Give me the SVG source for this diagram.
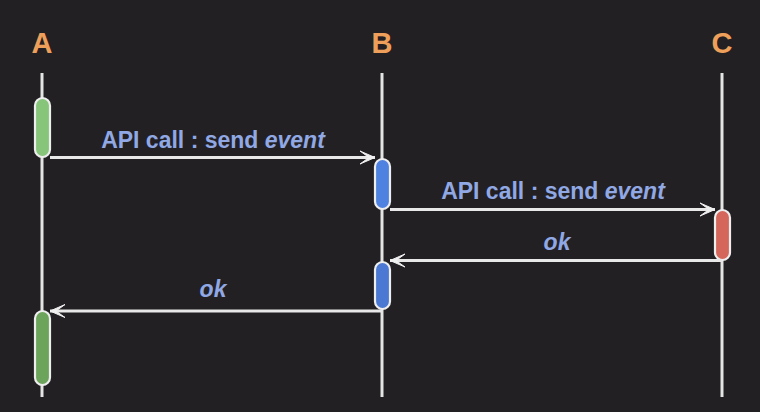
<svg xmlns="http://www.w3.org/2000/svg" width="760" height="412" viewBox="0 0 760 412">
<style>
.bg{fill:#232023}
.life{stroke:#e4e4e4;stroke-width:3;fill:none}
.head{font-family:"Liberation Sans",Arial,sans-serif;font-weight:bold;font-size:29px;fill:#eea05a;text-anchor:middle}
.act{stroke:#eeeeee;stroke-width:2.2}
.msg{stroke:#e8e8e8;stroke-width:3;fill:none}
.lbl{font-family:"Liberation Sans",Arial,sans-serif;font-weight:bold;font-size:23px;fill:#90a8e4;text-anchor:middle}
</style>
<defs>
<marker id="arr" markerUnits="userSpaceOnUse" markerWidth="20" markerHeight="20" refX="16" refY="8" orient="auto">
<path d="M16,8 L1,1.5 L10,8 L1,14.5 Z" fill="#f0f0f0" stroke="#f0f0f0" stroke-width="1" stroke-linejoin="miter"/>
</marker>
</defs>
<rect class="bg" x="0" y="0" width="760" height="412"/>
<g id="A">
<text class="head" x="42" y="53">A</text>
<line class="life" x1="42" y1="73" x2="42" y2="397"/>
<rect id="A-act1" class="act" x="35" y="98" width="15" height="59" rx="7.5" fill="#86c57a"/>
<rect id="A-act2" class="act" x="35" y="311" width="15" height="74" rx="7.5" fill="#6ca45c"/>
</g>
<g id="B">
<text class="head" x="382" y="53">B</text>
<line class="life" x1="382" y1="73" x2="382" y2="397"/>
<rect id="B-act1" class="act" x="375" y="159" width="15" height="50" rx="7.5" fill="#4f82e0"/>
<rect id="B-act2" class="act" x="375" y="262" width="15" height="47" rx="7.5" fill="#4a78d2"/>
</g>
<g id="C">
<text class="head" x="722" y="53">C</text>
<line class="life" x1="722" y1="73" x2="722" y2="397"/>
<rect id="C-act1" class="act" x="715" y="210" width="15" height="50" rx="7.5" fill="#d5665c"/>
</g>
<g id="connectors">
<line class="msg" x1="50" y1="157.5" x2="375" y2="157.5" marker-end="url(#arr)"/>
<line class="msg" x1="390" y1="209.5" x2="715" y2="209.5" marker-end="url(#arr)"/>
<line class="msg" x1="722" y1="260.5" x2="390" y2="260.5" marker-end="url(#arr)"/>
<line class="msg" x1="382" y1="311" x2="50" y2="311" marker-end="url(#arr)"/>
</g>
<g id="labels">
<text class="lbl" x="213" y="148">API call : send <tspan font-style="italic">event</tspan></text>
<text class="lbl" x="553" y="199">API call : send <tspan font-style="italic">event</tspan></text>
<text class="lbl" x="557" y="250" font-style="italic">ok</text>
<text class="lbl" x="213" y="297" font-style="italic">ok</text>
</g>
</svg>
